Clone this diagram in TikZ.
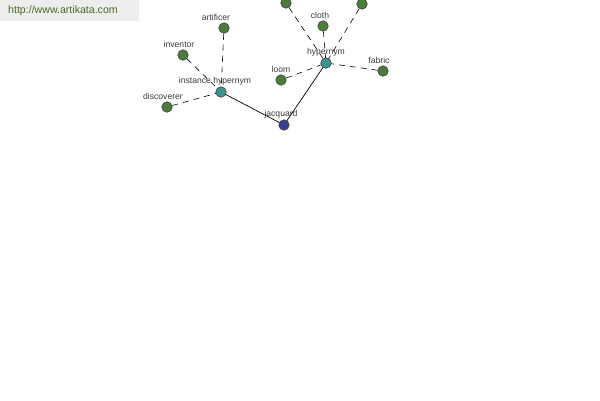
\documentclass[tikz,border=0pt]{standalone}
\usepackage{fontspec}
\setmainfont{Liberation Sans}
\usetikzlibrary{positioning}

\definecolor{leafgreen}{HTML}{4A7D3C}
\definecolor{linkteal}{HTML}{3C9490}
\definecolor{rootblue}{HTML}{3A3F94}
\definecolor{labelgray}{HTML}{3A3A3A}
\definecolor{urlgreen}{HTML}{4A6A2A}

\tikzset{
  word/.style={circle, draw=black!75, line width=0.6pt, minimum size=10.5pt, inner sep=0pt},
  leaf/.style={word, fill=leafgreen},
  rel/.style={word, fill=linkteal},
  root/.style={word, fill=rootblue},
  lbl/.style={font=\fontsize{8.6}{9}\selectfont, text=labelgray, inner sep=0pt},
  weak/.style={black, line width=0.6pt, dash pattern=on 6pt off 5pt},
  strong/.style={black, line width=0.7pt}
}

\begin{document}
\begin{tikzpicture}[x=1pt,y=-1pt]
\useasboundingbox (0,0) rectangle (600,400);
\fill[black!7] (0,0) rectangle (139,21);
\node[font=\fontsize{10.6}{11}\selectfont, text=urlgreen, anchor=west, inner sep=0pt] (url) at (8,11) {http://www.artikata.com};

% nodes
\coordinate (instc) at (221,92);
\coordinate (hyperc) at (326,63);
\coordinate (jacqc) at (284,125);

\node[leaf] (inventor) at (183,55) {};
\node[leaf] (artificer) at (224,28) {};
\node[leaf] (discoverer) at (167,107) {};
\node[leaf] (loom) at (281,80) {};
\node[leaf] (cloth) at (323,26) {};
\node[leaf] (fabric) at (383,71) {};
\node[leaf] (topleft) at (286,3) {};
\node[leaf] (topright) at (362,4) {};

% edges first so the circles sit on top
\draw[weak] (inventor) -- (instc);
\draw[weak] (artificer) -- (instc);
\draw[weak] (discoverer) -- (instc);
\draw[weak] (loom) -- (hyperc);
\draw[weak] (cloth) -- (hyperc);
\draw[weak] (fabric) -- (hyperc);
\draw[weak] (topleft) -- (hyperc);
\draw[weak] (topright) -- (hyperc);
\draw[strong] (instc) -- (jacqc);
\draw[strong] (jacqc) -- (hyperc);

\node[rel] (instance) at (instc) {};
\node[rel] (hypernym) at (hyperc) {};
\node[root] (jacquard) at (jacqc) {};

% labels
\node[lbl] (inventorlbl) at (179,44) {inventor};
\node[lbl] (artificerlbl) at (216,17) {artificer};
\node[lbl] (discovererlbl) at (163,96) {discoverer};
\node[lbl] (instancelbl) at (215,81) {instance hypernym};
\node[lbl] (jacquardlbl) at (281,114) {jacquard};
\node[lbl] (hypernymlbl) at (326,52) {hypernym};
\node[lbl] (loomlbl) at (281,69) {loom};
\node[lbl] (clothlbl) at (320,15) {cloth};
\node[lbl] (fabriclbl) at (379,60) {fabric};
\end{tikzpicture}
\end{document}
